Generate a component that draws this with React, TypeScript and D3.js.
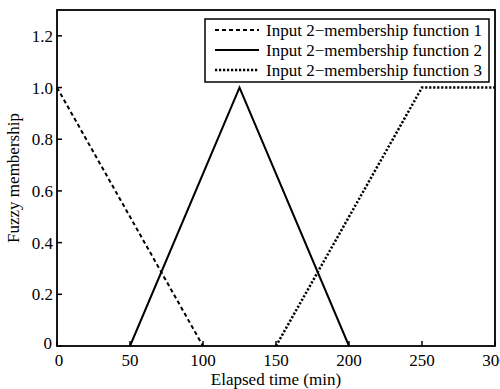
import React from "react";
import * as d3 from "d3";

const xTicks = [0, 50, 100, 150, 200, 250, 300];
const yTicks = [0, 0.2, 0.4, 0.6, 0.8, 1.0, 1.2];

const mf1X = [0, 100];
const mf1Y = [1, 0];
const mf2X = [50, 125, 200];
const mf2Y = [0, 1, 0];
const mf3X = [150, 250, 300];
const mf3Y = [0, 1, 1];

const seriesNames = [
  "Input 2\u2212membership function 1",
  "Input 2\u2212membership function 2",
  "Input 2\u2212membership function 3",
];
const dashes = ["4,3", "none", "2.2,1.8"];
const widths = [2, 2, 2.5];

export default function App() {
  const width = 500;
  const height = 389;
  const margin = { top: 10, right: 5, bottom: 43, left: 57 };
  const innerW = width - margin.left - margin.right;
  const innerH = height - margin.top - margin.bottom;

  const x = d3.scaleLinear().domain([0, 300]).range([0, innerW]);
  const y = d3.scaleLinear().domain([0, 1.3]).range([innerH, 0]);

  const line = d3
    .line<[number, number]>()
    .x((d) => x(d[0]))
    .y((d) => y(d[1]));

  const series = [
    mf1X.map((v, i) => [v, mf1Y[i]] as [number, number]),
    mf2X.map((v, i) => [v, mf2Y[i]] as [number, number]),
    mf3X.map((v, i) => [v, mf3Y[i]] as [number, number]),
  ];

  const font = "'Liberation Serif', 'Times New Roman', serif";
  const fs = 17;

  return (
    <svg
      width={width}
      height={height}
      style={{ position: "absolute", left: 0, top: 0, background: "#fff" }}
      fontFamily={font}
    >
      <g transform={`translate(${margin.left},${margin.top})`}>
        {series.map((s, i) => (
          <path
            key={i}
            d={line(s) || ""}
            fill="none"
            stroke="#000"
            strokeWidth={widths[i]}
            strokeDasharray={dashes[i]}
          />
        ))}

        {/* ticks */}
        {xTicks.map((t) => (
          <g key={"x" + t}>
            <line x1={x(t)} x2={x(t)} y1={innerH} y2={innerH - 5} stroke="#000" strokeWidth={1.5} />
            <text x={x(t) + (t === 0 ? 2 : 0)} y={innerH + 20} textAnchor="middle" fontSize={fs}>
              {t}
            </text>
          </g>
        ))}
        {yTicks.map((t) => (
          <g key={"y" + t}>
            <line x1={0} x2={5} y1={y(t)} y2={y(t)} stroke="#000" strokeWidth={1.5} />
            <text
              x={t === 0 ? -5 : -4}
              y={y(t) + (t === 0 ? 3 : 6)}
              textAnchor="end"
              fontSize={fs}
            >
              {t === 0 ? "0" : d3.format(".1f")(t)}
            </text>
          </g>
        ))}

        <rect x={0} y={0} width={innerW} height={innerH} fill="none" stroke="#000" strokeWidth={1.8} />

        {/* legend */}
        <g transform="translate(148,9)">
          <rect x={0} y={0} width={284} height={63} fill="#fff" stroke="#000" strokeWidth={1.5} />
          {seriesNames.map((n, i) => (
            <g key={n} transform={`translate(0,${11 + i * 20})`}>
              <line
                x1={10}
                x2={54}
                y1={0}
                y2={0}
                stroke="#000"
                strokeWidth={widths[i]}
                strokeDasharray={dashes[i]}
              />
              <text x={61} y={6} fontSize={fs}>
                {n}
              </text>
            </g>
          ))}
        </g>
      </g>

      <text x={margin.left + innerW / 2} y={385} textAnchor="middle" fontSize={fs}>
        Elapsed time (min)
      </text>
      <text
        transform={`translate(19,${margin.top + innerH / 2}) rotate(-90)`}
        textAnchor="middle"
        fontSize={fs}
      >
        Fuzzy membership
      </text>
    </svg>
  );
}
